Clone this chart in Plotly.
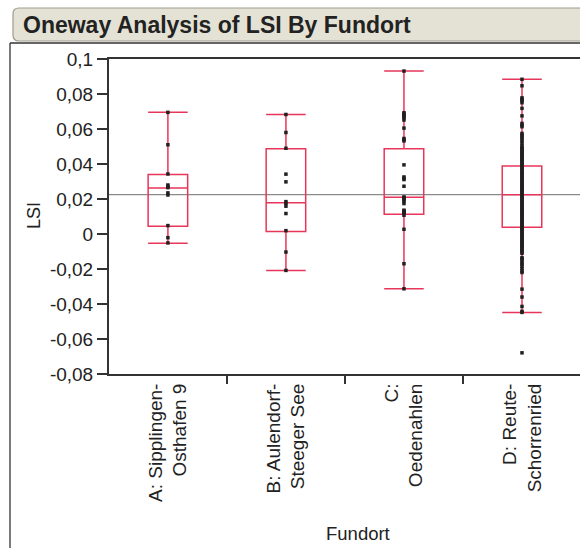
import plotly.graph_objects as go

# ---------------- data ----------------
fundorte = ["A: Sipplingen-Osthafen 9", "B: Aulendorf-Steeger See", "C: Oedenahlen", "D: Reute-Schorrenried"]
fundort_labels = ["A: Sipplingen-<br>Osthafen 9", "B: Aulendorf-<br>Steeger See", "C:<br>Oedenahlen", "D: Reute-<br>Schorrenried"]

lsi_a = [0.0695, 0.0510, 0.0343, 0.0280, 0.0272, 0.0265, 0.0235, 0.0223, 0.0048, -0.0021, -0.0051]
lsi_b = [0.0683, 0.0580, 0.0490, 0.0342, 0.0298, 0.0185, 0.0175, 0.0159, 0.0117, 0.0019, -0.0103, -0.0208]
lsi_c = [0.0931, 0.0693, 0.0686, 0.0680, 0.0672, 0.0664, 0.0651, 0.0605, 0.0546, 0.0539, 0.0532, 0.0395,
         0.0326, 0.0318, 0.0311, 0.0273, 0.0212, 0.0207, 0.0203, 0.0196, 0.0189, 0.0174, 0.0136, 0.0131,
         0.0126, 0.0121, 0.0117, 0.0107, 0.0027, -0.0170, -0.0313]
lsi_d = [0.0884, 0.0847, 0.0778, 0.0770, 0.0762, 0.0750, 0.0718, 0.0675, 0.0632, 0.0622, 0.0613, 0.0575,
         0.0566, 0.0555, 0.0545, 0.0532, 0.0520, 0.0505, 0.0495, 0.0488, 0.0480, 0.0472, 0.0465, 0.0458,
         0.0450, 0.0442, 0.0435, 0.0428, 0.0420, 0.0412, 0.0405, 0.0398, 0.0390, 0.0383, 0.0376, 0.0368,
         0.0360, 0.0352, 0.0345, 0.0338, 0.0330, 0.0322, 0.0315, 0.0308, 0.0300, 0.0292, 0.0285, 0.0278,
         0.0270, 0.0262, 0.0255, 0.0248, 0.0240, 0.0233, 0.0226, 0.0220, 0.0213, 0.0206, 0.0198, 0.0190,
         0.0183, 0.0175, 0.0168, 0.0160, 0.0152, 0.0145, 0.0138, 0.0130, 0.0122, 0.0115, 0.0108, 0.0100,
         0.0092, 0.0085, 0.0078, 0.0070, 0.0062, 0.0055, 0.0048, 0.0040, 0.0032, 0.0025, 0.0018, 0.0010,
         0.0003, -0.0005, -0.0012, -0.0020, -0.0028, -0.0035, -0.0042, -0.0050, -0.0058, -0.0065, -0.0072,
         -0.0080, -0.0088, -0.0095, -0.0103, -0.0110, -0.0135, -0.0142, -0.0150, -0.0165, -0.0172, -0.0185,
         -0.0198, -0.0212, -0.0220, -0.0315, -0.0360, -0.0414, -0.0442, -0.0448, -0.0679]

# box summaries (quantile box plot)
box_q1 = [0.0044, 0.0014, 0.0113, 0.0038]
box_median = [0.0263, 0.0178, 0.0210, 0.0225]
box_q3 = [0.0340, 0.0487, 0.0487, 0.0389]
box_low = [-0.0053, -0.0208, -0.0313, -0.0448]
box_high = [0.0695, 0.0683, 0.0931, 0.0884]

grand_mean = 0.0225

y_ticks = [0.1, 0.08, 0.06, 0.04, 0.02, 0, -0.02, -0.04, -0.06, -0.08]
y_ticktext = ["0,1", "0,08", "0,06", "0,04", "0,02", "0", "-0,02", "-0,04", "-0,06", "-0,08"]

# ---------------- layout geometry (pixels) ----------------
W, H = 580, 548
L, T, B, R = 109, 59, 174, 0
PW, PH = W - L - R, H - T - B


def px(x):
    return (x - L) / PW


def py(y):
    return 1 - (y - T) / PH


FONT = "Liberation Sans, Arial, Helvetica, sans-serif"
RED = "#e8365a"

fig = go.Figure()

fig.add_trace(go.Box(
    x=fundorte, q1=box_q1, median=box_median, q3=box_q3,
    lowerfence=box_low, upperfence=box_high,
    width=0.335, whiskerwidth=1,
    line=dict(color=RED, width=1.5), fillcolor="rgba(0,0,0,0)",
    boxpoints=False, showlegend=False, hoverinfo="skip",
))

groups = [lsi_a, lsi_b, lsi_c, lsi_d]
xs, ys = [], []
for name, vals in zip(fundorte, groups):
    xs += [name] * len(vals)
    ys += vals
fig.add_trace(go.Scatter(
    x=xs, y=ys, mode="markers",
    marker=dict(symbol="square", size=3.5, color="#231f20", line=dict(width=0)),
    showlegend=False, hoverinfo="skip",
))

shapes = [
    # grand mean line
    dict(type="line", xref="paper", yref="y", x0=0, x1=1, y0=grand_mean, y1=grand_mean,
         line=dict(color="#8a8a8a", width=1.2), layer="below"),
    # outer frame
    dict(type="line", xref="paper", yref="paper", x0=px(10), x1=px(10), y0=py(43), y1=py(560),
         line=dict(color="#333333", width=1.3)),
    dict(type="line", xref="paper", yref="paper", x0=px(10), x1=px(600), y0=py(43), y1=py(43),
         line=dict(color="#333333", width=1.3)),
]
# rounded title bar
x0, x1, y0, y1, r = 13, 600, 8, 41, 6
path = (f"M {px(x0)},{py(y0 + r)} Q {px(x0)},{py(y0)} {px(x0 + r)},{py(y0)} "
        f"L {px(x1)},{py(y0)} L {px(x1)},{py(y1)} L {px(x0 + r)},{py(y1)} "
        f"Q {px(x0)},{py(y1)} {px(x0)},{py(y1 - r)} Z")
shapes.append(dict(type="path", xref="paper", yref="paper", path=path,
                   fillcolor="#e4e2d4", line=dict(color="#9d9b8e", width=1.2)))

annotations = [
    dict(text="<b>Oneway Analysis of LSI By Fundort</b>", xref="paper", yref="paper",
         x=px(21), y=py(25), xanchor="left", yanchor="middle", showarrow=False,
         font=dict(family=FONT, size=23, color="#222222")),
    dict(text="LSI", xref="paper", yref="paper", x=px(34), y=py(216), textangle=-90,
         xanchor="center", yanchor="middle", showarrow=False,
         font=dict(family=FONT, size=18, color="#222222")),
    dict(text="Fundort", xref="paper", yref="paper", x=px(358), y=py(533),
         xanchor="center", yanchor="middle", showarrow=False,
         font=dict(family=FONT, size=18.5, color="#222222")),
]

fig.update_layout(
    width=W, height=H, margin=dict(l=L, r=R, t=T, b=B),
    paper_bgcolor="white", plot_bgcolor="white",
    shapes=shapes, annotations=annotations,
    font=dict(family=FONT, size=19, color="#222222"),
    xaxis=dict(
        type="category", categoryorder="array", categoryarray=fundorte,
        range=[-0.499, -0.5 + PW / 118], tickmode="array", tickvals=fundorte, ticktext=fundort_labels,
        tickson="boundaries", ticks="outside", ticklen=8, tickwidth=1.5, tickcolor="#333333",
        tickangle=-90, showline=True, linecolor="#333333", linewidth=2, mirror=True,
        showgrid=False, zeroline=False, tickfont=dict(family=FONT, size=19),
    ),
    yaxis=dict(
        range=[-0.08, 0.1], tickmode="array", tickvals=y_ticks, ticktext=y_ticktext,
        ticks="outside", ticklen=10, tickwidth=1.5, tickcolor="#333333",
        showline=True, linecolor="#333333", linewidth=2,
        showgrid=False, zeroline=False, tickfont=dict(family=FONT, size=19),
    ),
)

fig.write_html("out.html")
